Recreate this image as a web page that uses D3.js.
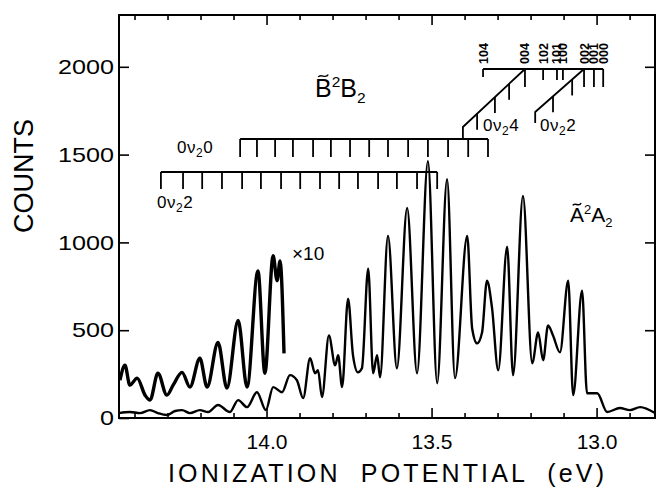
<!DOCTYPE html>
<html>
<head>
<meta charset="utf-8">
<script src="https://cdn.jsdelivr.net/npm/d3@7"></script>
<style>
    body { margin: 0; background: #fff; }
    svg { display: block; }
    text { font-family: "Liberation Sans", Arial, sans-serif; fill: #000; }
</style>
</head>
<body>
<svg id="plot" width="657" height="489"></svg>
<script>
'use strict';

/* spectrum: ionization potential (eV) and counts */
const energy = [14.447, 14.414, 14.383, 14.353, 14.329, 14.302, 14.277, 14.256, 14.232, 14.202,
    14.177, 14.147, 14.111, 14.086, 14.059, 14.029, 14.002, 13.980, 13.953, 13.929,
    13.908, 13.889, 13.868, 13.853, 13.844, 13.832, 13.811, 13.792, 13.783, 13.771,
    13.753, 13.738, 13.723, 13.711, 13.692, 13.677, 13.665, 13.656, 13.632, 13.605,
    13.574, 13.544, 13.511, 13.483, 13.453, 13.429, 13.392, 13.377, 13.362, 13.347,
    13.332, 13.317, 13.298, 13.271, 13.253, 13.223, 13.195, 13.177, 13.162, 13.147,
    13.132, 13.111, 13.086, 13.071, 13.044, 13.029, 12.998, 12.968, 12.929, 12.899,
    12.868, 12.823];
const counts = [28, 34, 28, 45, 28, 17, 40, 45, 28, 45,
    34, 74, 34, 102, 62, 147, 45, 176, 147, 244,
    215, 113, 340, 255, 272, 119, 470, 300, 357, 176,
    680, 357, 260, 283, 850, 255, 357, 232, 1037, 283,
    1196, 255, 1462, 198, 1360, 227, 1037, 510, 425, 487,
    782, 630, 272, 975, 244, 1264, 312, 487, 329, 527,
    470, 374, 782, 130, 725, 141, 141, 34, 57, 45,
    62, 28];

/* the x10 trace over the high-energy end */
const energyX10 = [14.444, 14.429, 14.414, 14.392, 14.368, 14.353, 14.329, 14.302, 14.283, 14.256,
    14.232, 14.202, 14.180, 14.147, 14.120, 14.086, 14.059, 14.026, 14.005, 13.980,
    13.968, 13.959, 13.947];
const countsX10 = [215, 300, 187, 227, 130, 102, 255, 130, 187, 260,
    176, 340, 176, 430, 170, 555, 176, 838, 255, 924,
    782, 895, 368];

/* axis ticks */
const xMajorTicks = [14.0, 13.5, 13.0];
const xMinorTicks = [14.4, 14.3, 14.2, 14.1, 13.9, 13.8, 13.7, 13.6, 13.4, 13.3, 13.2, 13.1, 12.9];
const yTicks = [0, 500, 1000, 1500, 2000];

/* vibrational assignment combs (eV) */
const comb0v22 = [14.320, 14.253, 14.195, 14.135, 14.074, 14.017, 13.956, 13.898, 13.838, 13.780,
    13.723, 13.662, 13.605, 13.544, 13.483];
const comb0v20 = [14.080, 14.029, 13.974, 13.920, 13.859, 13.805, 13.747, 13.689, 13.632, 13.571,
    13.511, 13.450, 13.389, 13.329];
const comb0v24 = [13.405, 13.362, 13.308, 13.265, 13.217];
const comb0v2b = [13.186, 13.132, 13.074, 13.038];
const originLabels = ['104', '004', '102', '101', '100', '002', '001', '000'];
const originEnergies = [13.344, 13.217, 13.162, 13.120, 13.102, 13.038, 13.008, 12.980];
const originKind = ['short', 'long', 'mid', 'mid', 'mid', 'long', 'long', 'long'];

const plotLeft = 119;
const plotRight = 655;
const plotTop = 15;
const plotBottom = 418;

const svg = d3.select('#plot');

const xScale = d3.scaleLinear().domain([14.447, 12.823]).range([plotLeft, plotRight]);
const yScale = d3.scaleLinear().domain([0, 2295]).range([plotBottom, plotTop]);

function renderAxes() {
    const g = svg.append('g').attr('class', 'axes');

    g.append('g')
        .attr('transform', `translate(0, ${plotBottom})`)
        .call(d3.axisBottom(xScale).tickValues(xMajorTicks).tickSize(-10).tickPadding(16)
            .tickFormat(d3.format('.1f')))
        .call(a => a.selectAll('text').attr('font-size', 21).attr('font-family', 'Liberation Sans'));

    g.append('g')
        .attr('transform', `translate(0, ${plotBottom})`)
        .call(d3.axisBottom(xScale).tickValues(xMinorTicks).tickSize(-5).tickFormat(''));

    g.append('g')
        .attr('transform', `translate(0, ${plotTop})`)
        .call(d3.axisTop(xScale).tickValues(xMajorTicks).tickSize(-10).tickFormat(''));

    g.append('g')
        .attr('transform', `translate(0, ${plotTop})`)
        .call(d3.axisTop(xScale).tickValues(xMinorTicks).tickSize(-5).tickFormat(''));

    g.append('g')
        .attr('transform', `translate(${plotLeft}, 0)`)
        .call(d3.axisLeft(yScale).tickValues(yTicks).tickSize(-10).tickPadding(5).tickFormat(d3.format('d')))
        .call(a => a.selectAll('text').attr('font-size', 21).attr('font-family', 'Liberation Sans')
            .attr('textLength', d => String(d).length * 14).attr('lengthAdjust', 'spacingAndGlyphs'));

    g.append('g')
        .attr('transform', `translate(${plotRight}, 0)`)
        .call(d3.axisRight(yScale).tickValues(yTicks.slice(1)).tickSize(-10).tickFormat(''));

    g.selectAll('.domain').remove();
    g.selectAll('.tick line').attr('stroke', '#000').attr('stroke-width', 1.6);

    svg.append('rect')
        .attr('x', plotLeft)
        .attr('y', plotTop)
        .attr('width', plotRight - plotLeft)
        .attr('height', plotBottom - plotTop)
        .attr('fill', 'none')
        .attr('stroke', '#000')
        .attr('stroke-width', 2);

    svg.append('text')
        .attr('x', 386)
        .attr('y', 482)
        .attr('text-anchor', 'middle')
        .attr('font-size', 25)
        .attr('textLength', 436)
        .attr('lengthAdjust', 'spacing')
        .style('white-space', 'pre')
        .text('IONIZATION  POTENTIAL  (eV)');

    svg.append('text')
        .attr('transform', 'translate(33, 176) rotate(-90)')
        .attr('text-anchor', 'middle')
        .attr('font-size', 27)
        .text('COUNTS');
}

function renderTraces() {
    const line = d3.line()
        .x(d => xScale(d[0]))
        .y(d => yScale(d[1]))
        .curve(d3.curveMonotoneX);

    svg.append('path')
        .datum(d3.zip(energyX10, countsX10))
        .attr('fill', 'none')
        .attr('stroke', '#000')
        .attr('stroke-width', 3.4)
        .attr('stroke-linejoin', 'round')
        .attr('d', line);

    svg.append('path')
        .datum(d3.zip(energy, counts))
        .attr('fill', 'none')
        .attr('stroke', '#000')
        .attr('stroke-width', 2.4)
        .attr('stroke-linejoin', 'round')
        .attr('d', line);
}

function renderComb(ticks, yLine, tickLength) {
    const g = svg.append('g').attr('stroke', '#000').attr('stroke-width', 1.8).attr('fill', 'none');
    g.append('line')
        .attr('x1', xScale(ticks[0])).attr('x2', xScale(ticks[ticks.length - 1]))
        .attr('y1', yLine).attr('y2', yLine);
    g.selectAll('line.tick')
        .data(ticks)
        .enter()
        .append('line')
        .attr('class', 'tick')
        .attr('x1', d => xScale(d)).attr('x2', d => xScale(d))
        .attr('y1', yLine).attr('y2', yLine + tickLength);
}

function renderDiagonal(ticks, yStart, yEnd, tickLength, riser) {
    const x0 = xScale(ticks[0]);
    const x1 = xScale(ticks[ticks.length - 1]);
    const yAt = x => yStart + (yEnd - yStart) * (x - x0) / (x1 - x0);
    const g = svg.append('g').attr('stroke', '#000').attr('stroke-width', 1.8).attr('fill', 'none');
    g.append('path')
        .attr('d', `M${x0},${yStart + riser}L${x0},${yStart}L${x1},${yEnd}`);
    g.selectAll('line')
        .data(ticks.slice(1, -1))
        .enter()
        .append('line')
        .attr('x1', d => xScale(d)).attr('x2', d => xScale(d))
        .attr('y1', d => yAt(xScale(d))).attr('y2', d => yAt(xScale(d)) + tickLength);
}

function renderOrigins() {
    const yLine = 69;
    const lengths = { short: 8, mid: 11, long: 18 };
    const g = svg.append('g');
    g.append('line')
        .attr('x1', xScale(originEnergies[0])).attr('x2', xScale(originEnergies[originEnergies.length - 1]))
        .attr('y1', yLine).attr('y2', yLine)
        .attr('stroke', '#000').attr('stroke-width', 1.8);
    g.selectAll('line.tick')
        .data(originEnergies)
        .enter()
        .append('line')
        .attr('class', 'tick')
        .attr('x1', d => xScale(d)).attr('x2', d => xScale(d))
        .attr('y1', yLine).attr('y2', (d, i) => yLine + lengths[originKind[i]])
        .attr('stroke', '#000').attr('stroke-width', 1.8);
    g.selectAll('text')
        .data(originLabels)
        .enter()
        .append('text')
        .attr('transform', (d, i) => `translate(${xScale(originEnergies[i]) + 4.5}, 64) rotate(-90)`)
        .attr('font-size', 12.5)
        .attr('font-weight', 'bold')
        .text(d => d);
}

/* state label like B~ 2B2, the tilde drawn as a small path over the first letter */
function renderStateLabel(x, y, letter, size) {
    const t = svg.append('text').attr('x', x).attr('y', y).attr('font-size', size);
    t.append('tspan').text(letter);
    t.append('tspan').attr('dy', -size * 0.4).attr('font-size', size * 0.62).text('2');
    t.append('tspan').attr('dy', size * 0.4).text(letter);
    t.append('tspan').attr('dy', size * 0.25).attr('font-size', size * 0.62).text('2');

    const cx = x + size * 0.33;
    const cy = y - size * 0.86;
    const w = size * 0.2;
    svg.append('path')
        .attr('d', `M${cx - w},${cy + 1.5} C${cx - w * 0.5},${cy - 2.5} ${cx + w * 0.5},${cy + 4} ${cx + w},${cy - 1}`)
        .attr('fill', 'none')
        .attr('stroke', '#000')
        .attr('stroke-width', 1.4);
}

function renderProgressionLabel(x, y, tail) {
    const t = svg.append('text').attr('x', x).attr('y', y).attr('font-size', 17)
        .attr('letter-spacing', 0.5);
    t.append('tspan').text('0\u03bd');
    t.append('tspan').attr('dy', 4).attr('font-size', 12).text('2');
    t.append('tspan').attr('dy', -4).text(tail);
}

function renderAnnotations() {
    renderComb(comb0v22, 172, 17);
    renderComb(comb0v20, 139, 18);
    renderDiagonal(comb0v24, 127, 69, 16, 12);
    renderDiagonal(comb0v2b, 112, 69, 16, 11);
    renderOrigins();

    renderProgressionLabel(157, 208, '2');
    renderProgressionLabel(177, 153, '0');
    renderProgressionLabel(483, 131, '4');
    renderProgressionLabel(540, 131, '2');

    renderStateLabel(315, 97, 'B', 25);
    renderStateLabel(570, 222, 'A', 21);

    svg.append('text')
        .attr('x', 292).attr('y', 260)
        .attr('font-size', 19)
        .text('\u00d710');
}

renderAxes();
renderTraces();
renderAnnotations();
</script>
</body>
</html>
